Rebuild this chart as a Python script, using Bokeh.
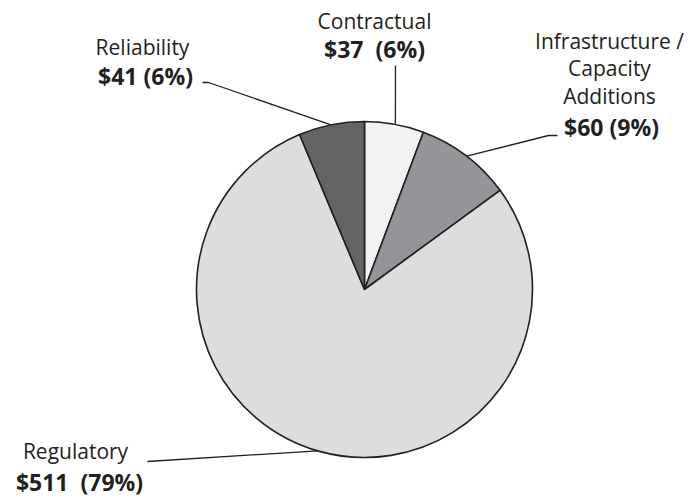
import math

from bokeh.core.properties import value
from bokeh.embed import file_html
from bokeh.models import ColumnDataSource, Range1d
from bokeh.plotting import figure
from bokeh.resources import INLINE

# Spending by category, $ millions
categories = ["Contractual", "Infrastructure / Capacity Additions", "Regulatory", "Reliability"]
amounts = [37, 60, 511, 41]
fills = ["#f1f2f3", "#939598", "#dcdddf", "#636466"]
name_lines = [["Contractual"], ["Infrastructure /", "Capacity", "Additions"], ["Regulatory"], ["Reliability"]]
value_gaps = [2, 1, 2, 1]

W, H = 688, 498
FONT = "Open Sans"
INK = "#231f20"

total = sum(amounts)
shares = [a / total for a in amounts]
NBSP = "\u00a0"
pct_labels = [f"${a}{NBSP * g}({round(s * 100)}%)" for a, s, g in zip(amounts, shares, value_gaps)]

# Pie geometry in page pixels (y measured from the top)
cx, cy, r = 364, 289, 168


def fy(y):
    return H - y


# Clockwise from 12 o'clock
starts, ends = [], []
acc = 0.0
for s in shares:
    ends.append(math.pi / 2 - acc * 2 * math.pi)
    acc += s
    starts.append(math.pi / 2 - acc * 2 * math.pi)

p = figure(width=W, height=H, output_backend="svg", toolbar_location=None,
           x_range=Range1d(0, W), y_range=Range1d(0, H), min_border=0,
           background_fill_color="white", border_fill_color="white")
p.axis.visible = False
p.grid.visible = False
p.outline_line_color = None

src = ColumnDataSource(dict(x=[cx] * 4, y=[fy(cy)] * 4, start=starts, end=ends,
                            fill=fills, cat=categories))
p.wedge(x="x", y="y", radius=r, start_angle="start", end_angle="end",
        direction="anticlock", fill_color="fill", line_color=INK, line_width=1.6,
        source=src)


def edge(angle_deg_from_top):
    a = math.radians(angle_deg_from_top)
    return cx + r * math.sin(a), cy - r * math.cos(a)


# Leader lines: label end -> point on the pie rim
leaders = [
    [(395, 65), edge(10.6)],
    [(557, 135), (548, 135), edge(37.5)],
    [(147, 461), edge(196.2)],
    [(202, 82), (208, 82), edge(348.5)],
]
for pts in leaders:
    p.line([q[0] for q in pts], [fy(q[1]) for q in pts], line_color=INK, line_width=1.3)

# Label blocks: centre x and vertical centre of each line
name_pos = [(374, [20.5]), (609, [40, 67.5, 95.5]), (75, [450]), (142, [46.5])]
value_pos = [(374, 48), (611, 126), (79, 481.5), (145, 75)]

nx, ny, nt = [], [], []
for (lx, ys), names in zip(name_pos, name_lines):
    for yy, t in zip(ys, names):
        nx.append(lx)
        ny.append(fy(yy))
        nt.append(t)
vx = [q[0] for q in value_pos]
vy = [fy(q[1]) for q in value_pos]

p.text(x=nx, y=ny, text=nt, text_font=value(FONT), text_font_size="21px",
       text_color=INK, text_align="center", text_baseline="middle")
p.text(x=vx, y=vy, text=pct_labels, text_font=value(FONT), text_font_size="23px",
       text_font_style="bold", text_color=INK, text_align="center",
       text_baseline="middle")

open("out.html", "w").write(file_html(p, INLINE))
